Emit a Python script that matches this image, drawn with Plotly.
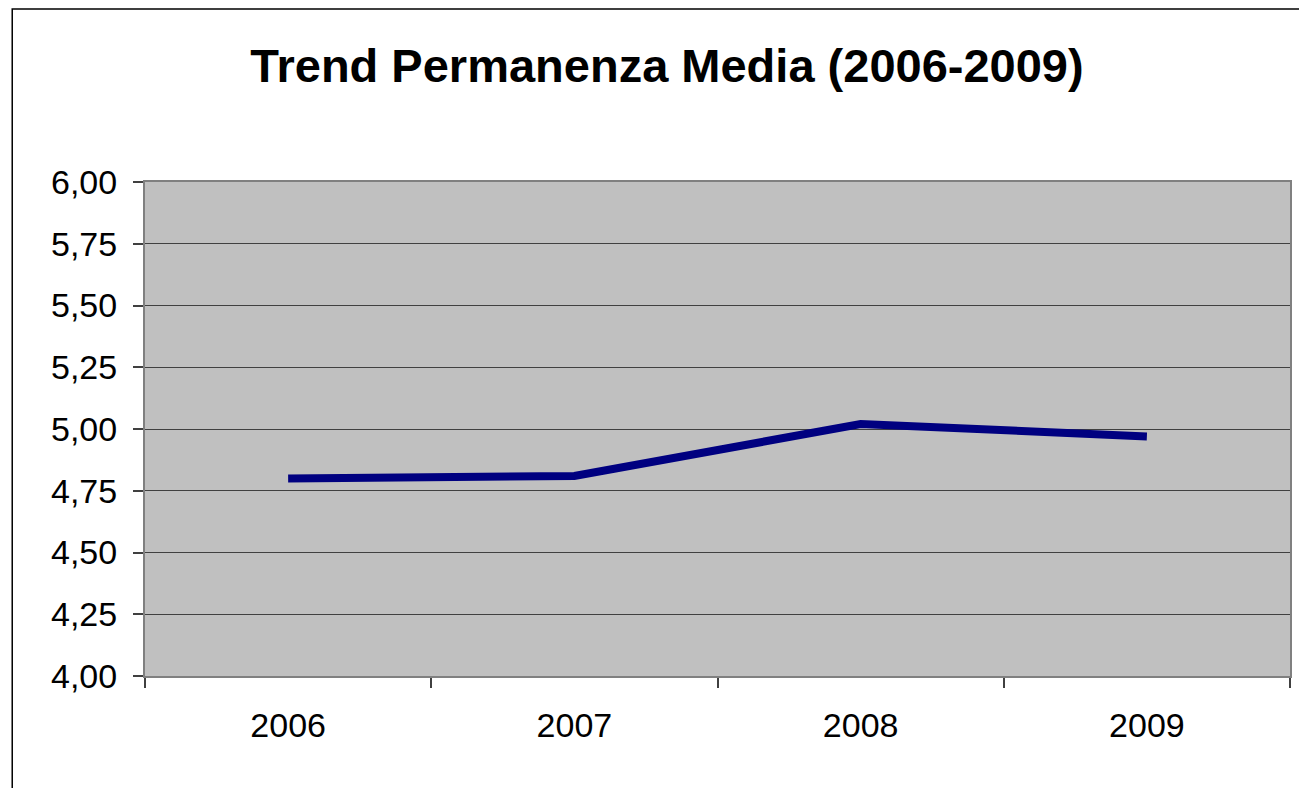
import plotly.graph_objects as go

years = ["2006", "2007", "2008", "2009"]
permanenza = [4.80, 4.81, 5.02, 4.97]
y_ticks = [4.00, 4.25, 4.50, 4.75, 5.00, 5.25, 5.50, 5.75, 6.00]

fig = go.Figure()
fig.add_trace(go.Scatter(
    x=years, y=permanenza, mode="lines",
    line=dict(color="#000080", width=8),
    hoverinfo="x+y",
))

W, H = 1299, 788
L, R, T, B = 145, 1292, 182, 676
pw, ph = R - L, B - T

def px(xp):
    return (xp - L) / pw

def py(yp):
    return (B - yp) / ph

fig.add_shape(type="rect", xref="paper", yref="paper",
              x0=px(12), x1=px(1310), y0=py(800), y1=py(9),
              line=dict(color="#000000", width=1.5), layer="below")

fig.update_layout(
    width=W, height=H,
    margin=dict(l=L, r=W - R, t=T, b=H - B, pad=0),
    paper_bgcolor="white",
    plot_bgcolor="#c0c0c0",
    separators=",.",
    showlegend=False,
    font=dict(family="Arial, Liberation Sans, sans-serif", color="black"),
    title=dict(
        text="<b>Trend Permanenza Media (2006-2009)</b>",
        xref="container", x=667 / W, xanchor="center",
        yref="container", y=1 - 66 / H, yanchor="middle",
        font=dict(size=47, color="black"),
    ),
    xaxis=dict(
        type="category", range=[-0.5, 3.5],
        tickson="boundaries", ticks="outside", ticklen=10, tickwidth=1.5,
        tickcolor="#404040",
        showgrid=False, showline=True, linecolor="#808080", linewidth=2,
        mirror=True, tickfont=dict(size=34), ticklabelstandoff=18,
    ),
    yaxis=dict(
        range=[4, 6], tickvals=y_ticks, tickformat=".2f",
        ticks="outside", ticklen=10, tickwidth=1.5, tickcolor="#404040",
        showgrid=True, gridcolor="#404040", gridwidth=1,
        showline=True, linecolor="#808080", linewidth=2, mirror=True,
        zeroline=False, tickfont=dict(size=34), ticklabelstandoff=9,
    ),
)

fig.write_html("out.html", config={"displayModeBar": False})

with open("out.html", "r", encoding="utf-8") as f:
    html = f.read()
html = html.replace("<body>", "<body style=\"margin:0;padding:0;\">", 1)
with open("out.html", "w", encoding="utf-8") as f:
    f.write(html)
